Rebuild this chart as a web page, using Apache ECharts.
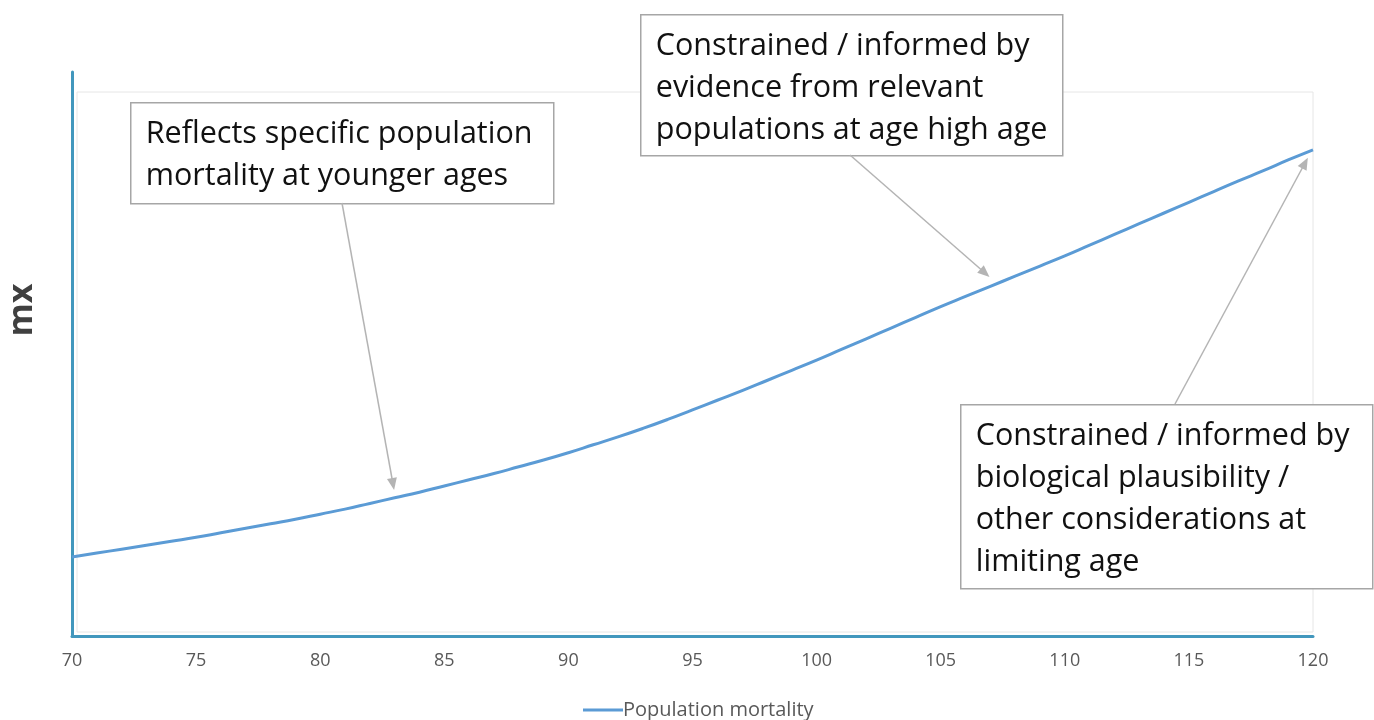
<!DOCTYPE html>
<html>
<head>
<meta charset="utf-8">
<title>Population mortality</title>
<script src="https://cdn.jsdelivr.net/npm/echarts@6/dist/echarts.min.js"></script>
<style>
  html, body { margin: 0; padding: 0; background: #ffffff; }
  #chart { width: 1374px; height: 720px; }
</style>
</head>
<body>
<div id="chart"></div>
<script>
// Ages on the x axis
const ages = [70, 71, 72, 73, 74, 75, 76, 77, 78, 79,
              80, 81, 82, 83, 84, 85, 86, 87, 88, 89,
              90, 91, 92, 93, 94, 95, 96, 97, 98, 99,
              100, 101, 102, 103, 104, 105, 106, 107, 108, 109,
              110, 111, 112, 113, 114, 115, 116, 117, 118, 119, 120];

// Mortality rate mx by age
const mortality = [0.140, 0.147, 0.154, 0.161, 0.168, 0.175, 0.183, 0.191, 0.199, 0.207,
                   0.216, 0.225, 0.235, 0.245, 0.255, 0.266, 0.277, 0.288, 0.300, 0.312,
                   0.325, 0.339, 0.353, 0.368, 0.384, 0.401, 0.418, 0.435, 0.453, 0.471,
                   0.489, 0.508, 0.527, 0.546, 0.565, 0.584, 0.602, 0.620, 0.638, 0.656,
                   0.674, 0.693, 0.712, 0.731, 0.750, 0.769, 0.788, 0.807, 0.825, 0.844, 0.862];

const seriesName = 'Population mortality';
const yAxisTitle = 'mx';

// Annotation texts
const noteYoung = ['Reflects specific population', 'mortality at younger ages'];
const noteHigh = ['Constrained / informed by', 'evidence from relevant', 'populations at age high age'];
const noteLimit = ['Constrained / informed by', 'biological plausibility /', 'other considerations at', 'limiting age'];

const axisColor = '#4297bd';
const lineColor = '#5b9bd5';
const noteFont = '"Open Sans", "Noto Sans", sans-serif';

const chart = echarts.init(document.getElementById('chart'), null, { renderer: 'canvas' });

function noteBox(left, top, width, height, lines) {
  return {
    type: 'group',
    left: left,
    top: top,
    children: [
      {
        type: 'rect',
        shape: { x: 0, y: 0, width: width, height: height },
        style: { fill: '#ffffff', stroke: '#a6a6a6', lineWidth: 1.5 }
      },
      {
        type: 'text',
        x: 15,
        y: 11,
        style: {
          text: lines.join('\n'),
          font: '30.5px ' + noteFont,
          lineHeight: 42,
          fill: '#111111'
        }
      }
    ]
  };
}

chart.setOption({
  backgroundColor: '#ffffff',
  animation: false,
  grid: { left: 72, right: 61, top: 72, bottom: 84, containLabel: false },
  xAxis: {
    type: 'value',
    min: 70,
    max: 120,
    interval: 5,
    axisLine: { show: true, lineStyle: { color: axisColor, width: 3 } },
    axisTick: { show: false },
    splitLine: { show: false },
    axisLabel: { color: '#595959', fontSize: 18, margin: 16, fontFamily: '"Open Sans", sans-serif' }
  },
  yAxis: {
    type: 'value',
    min: 0,
    max: 1,
    axisLine: { show: true, onZero: false, lineStyle: { color: axisColor, width: 3 } },
    axisTick: { show: false },
    axisLabel: { show: false },
    splitLine: { show: false }
  },
  legend: {
    bottom: -5,
    left: 578,
    icon: 'rect',
    itemWidth: 40,
    itemHeight: 3,
    itemGap: 4,
    textStyle: { color: '#595959', fontSize: 20, padding: [0, 0, 0, -5], fontFamily: '"Open Sans", sans-serif' },
    data: [seriesName]
  },
  series: [{
    name: seriesName,
    type: 'line',
    data: ages.map((a, i) => [a, mortality[i]]),
    showSymbol: false,
    smooth: true,
    lineStyle: { color: lineColor, width: 3 },
    itemStyle: { color: lineColor },
    markLine: {
      silent: true,
      symbol: ['none', 'triangle'],
      symbolSize: [10, 12],
      label: { show: false },
      lineStyle: { color: '#b4b4b4', width: 1.5, type: 'solid' },
      data: [
        [{ x: 342, y: 203 }, { x: 393, y: 484 }],
        [{ x: 850, y: 155 }, { x: 985, y: 273 }],
        [{ x: 1175, y: 404 }, { x: 1305, y: 163 }]
      ]
    }
  }],
  graphic: [
    {
      type: 'rect',
      silent: true,
      z: -1,
      shape: { x: 77, y: 92, width: 1236, height: 540 },
      style: { fill: 'none', stroke: '#e6e6e6', lineWidth: 1 }
    },
    {
      type: 'text',
      x: 22,
      y: 310,
      rotation: Math.PI / 2,
      style: {
        text: yAxisTitle,
        font: 'bold 34px "Open Sans", sans-serif',
        fill: '#404040',
        textAlign: 'center',
        textVerticalAlign: 'middle'
      }
    },
    noteBox(130, 102, 423, 101, noteYoung),
    noteBox(640, 14, 422, 141, noteHigh),
    noteBox(960, 404, 412, 184, noteLimit)
  ]
});
</script>
</body>
</html>
